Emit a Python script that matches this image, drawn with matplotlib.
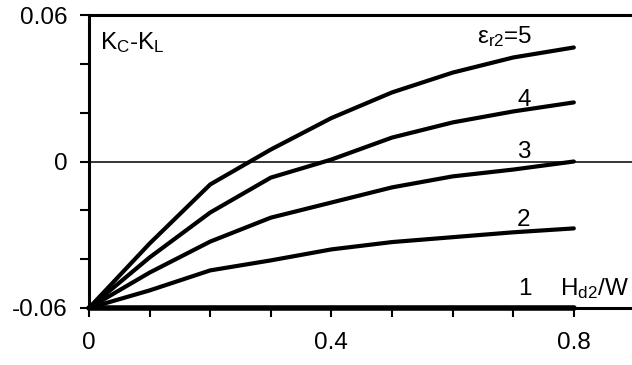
import matplotlib
matplotlib.use("Agg")
import matplotlib.pyplot as plt

plt.rcParams['font.family'] = ['Liberation Sans', 'DejaVu Sans']
plt.rcParams['mathtext.fontset'] = 'custom'
plt.rcParams['mathtext.rm'] = 'Liberation Sans'
plt.rcParams['mathtext.it'] = 'Liberation Sans'

# H_d2/W
x = [0, 0.1, 0.2, 0.3, 0.4, 0.5, 0.6, 0.7, 0.8]

# K_C - K_L for each eps_r2
k_eps5 = [-0.06, -0.0336, -0.0094, 0.0049, 0.0178, 0.0283, 0.0364, 0.0426, 0.0467]
k_eps4 = [-0.06, -0.0393, -0.0209, -0.0066, 0.0008, 0.0098, 0.0160, 0.0205, 0.0242]
k_eps3 = [-0.06, -0.0455, -0.0328, -0.0230, -0.0168, -0.0106, -0.0061, -0.0033, 0.0]
k_eps2 = [-0.06, -0.0528, -0.0446, -0.0405, -0.0360, -0.0330, -0.0310, -0.0290, -0.0274]
k_eps1 = [-0.06] * 9

curve_labels = ["$\\mathregular{\\epsilon_{r2}}$=5", "4", "3", "2", "1"]
label_xy = [(532, 37), (524, 100), (524, 152), (524, 220), (525, 289)]

fig = plt.figure(figsize=(6.32, 3.65), dpi=100)
ax = fig.add_axes([89 / 632, 1 - 308 / 365, 1 - 89 / 632, (308 - 15) / 365])

ax.axhline(0, color='black', lw=1.1, zorder=1)
for ys in [k_eps5, k_eps4, k_eps3, k_eps2]:
    ax.plot(x, ys, color='black', lw=3.0, solid_capstyle='round', zorder=3)
ax.plot(x, k_eps1, color='black', lw=4.0, solid_capstyle='round', zorder=4, clip_on=False)

ax.set_xlim(0, 0.896)
ax.set_ylim(-0.06, 0.06)

ax.set_xticks([0, 0.4, 0.8])
ax.set_xticklabels(["0", "0.4", "0.8"])
ax.set_xticks([0.1, 0.2, 0.3, 0.5, 0.6, 0.7], minor=True)
ax.set_yticks([-0.06, 0, 0.06])
ax.set_yticklabels(["-0.06", "0", "0.06"])
ax.set_yticks([-0.04, -0.02, 0.02, 0.04], minor=True)
ax.tick_params(which='both', direction='out', length=6.5, width=1.5, labelsize=17.5)
ax.tick_params(axis='x', pad=10.5)
ax.tick_params(axis='y', pad=9)

ax.spines['right'].set_visible(False)
for s in ['left', 'top', 'bottom']:
    ax.spines[s].set_linewidth(2.2)

for txt, (px, py) in zip(curve_labels, label_xy):
    ha = 'right' if txt.startswith('$') else 'center'
    fig.text(px / 632, 1 - py / 365, txt, fontsize=17.5, ha=ha, va='center')

fig.text(100 / 632, 1 - 43 / 365, "$\\mathregular{K_C}$-$\\mathregular{K_L}$", fontsize=17.5, ha='left', va='center')
fig.text(629 / 632, 1 - 289 / 365, "$\\mathregular{H_{d2}}$/W", fontsize=17.5, ha='right', va='center')

fig.savefig("out.png", dpi=100)
